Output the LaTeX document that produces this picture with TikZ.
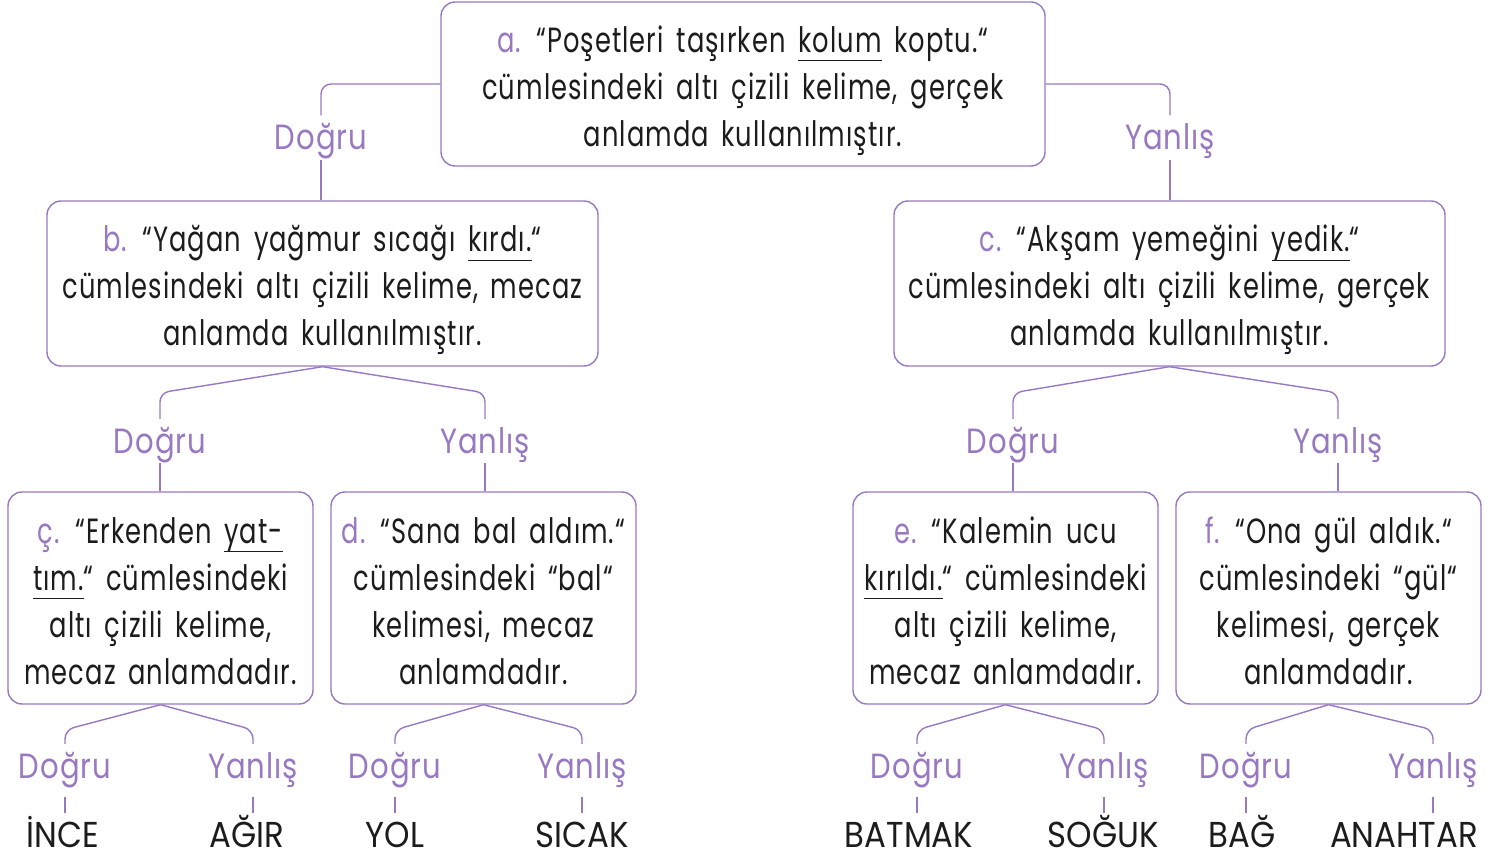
\documentclass[tikz,border=0pt]{standalone}
\usepackage{fontspec}
\setmainfont{Poppins}[FakeStretch=0.735, LetterSpace=3, WordSpace=1.6]
\newfontfamily\lblfont{Poppins}[FakeStretch=0.83, LetterSpace=3]
\newfontfamily\wordfont{Poppins}[FakeStretch=0.9]
\definecolor{pur}{RGB}{152,120,192}
\definecolor{ink}{RGB}{28,28,28}
\newcommand\undl[1]{\setbox0\hbox{#1}\rlap{\rule[-9pt]{\wd0}{1.2pt}}\box0\relax}
\newcommand\lt[1]{{\color{pur}#1}}
\newcommand\tops{\rule{0pt}{40pt}}
\newcommand\bots{\rule[-9pt]{0pt}{9pt}}
\tikzset{
  box/.style={draw=pur, line width=1.4pt, rounded corners=14pt, align=center, text=ink,
    font=\fontsize{35}{47}\selectfont, inner sep=0pt},
  lbl/.style={text=pur, font=\lblfont\fontsize{35}{40}\selectfont, inner xsep=0pt, inner ysep=9.5pt,
    text height=25pt, text depth=0pt},
  word/.style={text=ink, font=\wordfont\fontsize{36}{40}\selectfont, inner xsep=0pt, inner ysep=9pt,
    text height=25.5pt, text depth=0pt},
  conn/.style={draw=pur, line width=1.4pt},
}
\begin{document}
\begin{tikzpicture}[x=1pt,y=-1pt]
\useasboundingbox (0,0) rectangle (1502,861);
% boxes
\node[box, minimum width=604pt, minimum height=164pt] (a) at (743,84)
  {\tops\lt{a.} “Poşetleri taşırken \undl{kolum} koptu.“\\ cümlesindeki altı çizili kelime, gerçek\\ anlamda kullanılmıştır.\bots};
\node[box, minimum width=551pt, minimum height=165pt] (b) at (322.5,283.5)
  {\tops\lt{b.} “Yağan yağmur sıcağı \undl{kırdı.}“\\ cümlesindeki altı çizili kelime, mecaz\\ anlamda kullanılmıştır.\bots};
\node[box, minimum width=551pt, minimum height=165pt] (c) at (1169.5,283.5)
  {\tops\lt{c.} “Akşam yemeğini \undl{yedik.}“\\ cümlesindeki altı çizili kelime, gerçek\\ anlamda kullanılmıştır.\bots};
\node[box, minimum width=305pt, minimum height=212pt] (cc) at (160.5,598)
  {\tops\lt{ç.} “Erkenden \undl{yat-}\\ \undl{tım.}“ cümlesindeki\\ altı çizili kelime,\\ mecaz anlamdadır.\bots};
\node[box, minimum width=305pt, minimum height=212pt] (d) at (483.5,598)
  {\tops\lt{d.} “Sana bal aldım.“\\ cümlesindeki “bal“\\ kelimesi, mecaz\\ anlamdadır.\bots};
\node[box, minimum width=305pt, minimum height=212pt] (e) at (1005.5,598)
  {\tops\lt{e.} “Kalemin ucu\\ \undl{kırıldı.}“ cümlesindeki\\ altı çizili kelime,\\ mecaz anlamdadır.\bots};
\node[box, minimum width=305pt, minimum height=212pt] (f) at (1328.5,598)
  {\tops\lt{f.} “Ona gül aldık.“\\ cümlesindeki “gül“\\ kelimesi, gerçek\\ anlamdadır.\bots};
% level 1 labels
\node[lbl] (l1) at (321,137.5) {Doğru};
\node[lbl] (r1) at (1170,137.5) {Yanlış};
\draw[conn, rounded corners=10pt] (a.west) -| (l1.north);
\draw[conn, rounded corners=10pt] (a.east) -| (r1.north);
\draw[conn] (l1.south) -- (l1.south |- b.north);
\draw[conn] (r1.south) -- (r1.south |- c.north);
% level 2 labels
\node[lbl] (bl) at (160,441) {Doğru};
\node[lbl] (br) at (485,441) {Yanlış};
\node[lbl] (cl) at (1013,441) {Doğru};
\node[lbl] (cr) at (1338,441) {Yanlış};
\foreach \p/\c in {b/bl, b/br, c/cl, c/cr}{
  \draw[conn, rounded corners=9pt] (\p.south) -- ([yshift=26pt]\c.north) -- (\c.north);
}
\draw[conn] (bl.south) -- (bl.south |- cc.north);
\draw[conn] (br.south) -- (br.south |- d.north);
\draw[conn] (cl.south) -- (cl.south |- e.north);
\draw[conn] (cr.south) -- (cr.south |- f.north);
% level 3 labels
\node[lbl] (ccl) at (65,766) {Doğru};
\node[lbl] (ccr) at (253,766) {Yanlış};
\node[lbl] (dl) at (395,766) {Doğru};
\node[lbl] (dr) at (582,766) {Yanlış};
\node[lbl] (el) at (917,766) {Doğru};
\node[lbl] (er) at (1104,766) {Yanlış};
\node[lbl] (fl) at (1246,766) {Doğru};
\node[lbl] (fr) at (1433,766) {Yanlış};
\foreach \p/\c in {cc/ccl, cc/ccr, d/dl, d/dr, e/el, e/er, f/fl, f/fr}{
  \draw[conn, rounded corners=9pt] (\p.south) -- ([yshift=14pt]\c.north) -- (\c.north);
}
% words
\node[word] (w1) at (62.5,835) {İNCE};
\node[word] (w2) at (247,835) {AĞIR};
\node[word] (w3) at (395,835) {YOL};
\node[word] (w4) at (582,835) {SICAK};
\node[word] (w5) at (909,835) {BATMAK};
\node[word] (w6) at (1103,835) {SOĞUK};
\node[word] (w7) at (1242,835) {BAĞ};
\node[word] (w8) at (1404,835) {ANAHTAR};
\foreach \l/\w in {ccl/w1, ccr/w2, dl/w3, dr/w4, el/w5, er/w6, fl/w7, fr/w8}{
  \draw[conn, line width=1.2pt] ([yshift=-9pt]\l.south) -- (\l.south |- \w.north);
}
\end{tikzpicture}
\end{document}
